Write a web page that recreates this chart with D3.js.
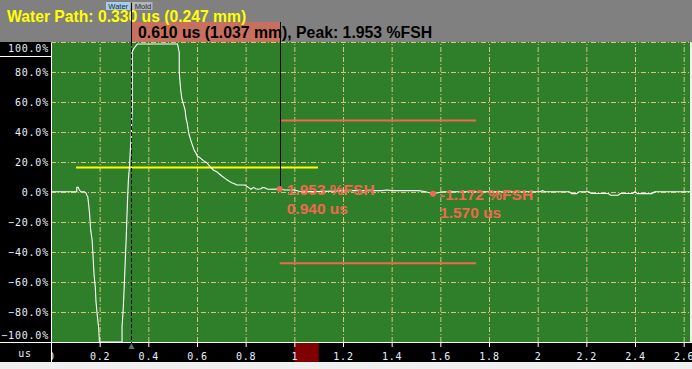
<!DOCTYPE html>
<html>
<head>
<meta charset="utf-8">
<script src="https://cdn.jsdelivr.net/npm/d3@7"></script>
<style>
  body { margin: 0; background: #f0f0f0; }
  svg { display: block; }
  .tick text { font-family: "DejaVu Sans Mono", monospace; font-size: 10px; fill: #e8f2ff; letter-spacing: 0.8px; }
</style>
</head>
<body>
<svg id="chart" width="692" height="369"></svg>
<script>
// A-scan waveform (time in us, amplitude in %FSH)
const waveUs = [0, 0.100, 0.106, 0.106, 0.112, 0.115, 0.122, 0.137, 0.144, 0.147, 0.151, 0.155, 0.159, 0.163,
  0.169, 0.173, 0.177, 0.182, 0.185, 0.190, 0.196, 0.199, 0.292, 0.292, 0.297, 0.301, 0.305, 0.309, 0.314,
  0.318, 0.323, 0.326, 0.329, 0.334, 0.334, 0.341, 0.355, 0.520, 0.527, 0.527, 0.533, 0.538, 0.551, 0.555,
  0.560, 0.564, 0.568, 0.574, 0.581, 0.588, 0.596, 0.601, 0.612, 0.626, 0.640, 0.654, 0.667, 0.681, 0.702,
  0.715, 0.729, 0.743, 0.756, 0.763, 0.797, 0.811, 0.822, 0.832, 0.841, 0.852, 0.863, 0.870, 0.880, 0.891,
  0.940, 0.960, 1.000, 1.020, 1.100, 1.230, 1.360, 1.380, 1.400, 1.510, 1.540, 1.570, 1.610, 2.010, 2.020,
  2.030, 2.130, 2.140, 2.160, 2.170, 2.210, 2.220, 2.290, 2.300, 2.330, 2.340, 2.390, 2.400, 2.410, 2.470,
  2.480, 2.626];
const wavePct = [0.2, 0.2, 0.2, 3.1, 3.1, 1.8, 0.2, 0.2, -0.8, -2, -3.1, -8.7, -15.3, -25.3,
  -32, -43.3, -55.3, -63.3, -73.3, -82, -90.7, -100, -100, -89.8, -77.5, -62.7, -46.5, -30.9, -7.5,
  8, 18, 28, 34.7, 55.8, 93.5, 95.8, 98.7, 98.7, 93, 80, 68, 62, 54.7, 49,
  45.8, 41.3, 38, 34.7, 31.3, 28, 25.8, 24, 22.9, 20.9, 19.5, 16.9, 14.7, 13.5, 10.7,
  9.1, 7.5, 6.2, 5.3, 4.7, 4.7, 3.1, 1.8, 3.1, 2.2, 1.8, 2.2, 3.1, 2.7, 1.8,
  1.95, 1.3, 1.3, 0.5, 0.3, 0.9, 0.9, 1.3, 0.9, 0.9, 0.2, -1.17, 0.2, 0.2, 0.9,
  0.2, 0.2, -1.1, -1.1, 0.2, 0.2, -1.0, -1.0, -2.2, -2.2, -1.0, -1.0, 0.2, -1.1, -1.1,
  0.2, 0.2];

// axis ticks
const xTicks = [0, 0.2, 0.4, 0.6, 0.8, 1, 1.2, 1.4, 1.6, 1.8, 2, 2.2, 2.4, 2.6];
const yTicks = [100, 80, 60, 40, 20, 0, -20, -40, -60, -80, -100];

// gates and markers
const interfaceGate = { start: 0.103, end: 1.097, level: 16.4 };
const measureGate = { start: 0.94, end: 1.747, upper: 47.7, lower: -47.5 };
const waterPathUs = 0.330;
const peaks = [
  { us: 0.940, pct: 1.953, label: "1.953 %FSH", time: "0.940 us" },
  { us: 1.570, pct: -1.172, label: "-1.172 %FSH", time: "1.570 us" }
];
const headerText = "Water Path: 0.330 us (0.247 mm)";
const boxText = "0.610 us (1.037 mm), Peak: 1.953 %FSH";

const W = 692, H = 369;
const margin = { left: 51, top: 42, right: 2, bottom: 27 };
const width = W - margin.left - margin.right;
const height = H - margin.top - margin.bottom;

const gridColor = "#d8c47c";
const redColor = "#f0684e";
const boldFont = "'Liberation Sans', Arial, sans-serif";

const x = d3.scaleLinear().domain([0, 2.626]).range([margin.left, margin.left + width]);
const y = d3.scaleLinear().domain([-100, 100]).range([margin.top + height, margin.top]);

const svg = d3.select("#chart");

// backgrounds
svg.append("rect").attr("x", 0).attr("y", 0).attr("width", W).attr("height", H).attr("fill", "#f0f0f0");
svg.append("rect").attr("x", 0).attr("y", 0).attr("width", W).attr("height", margin.top).attr("fill", "#808080");
svg.append("rect").attr("x", 0).attr("y", margin.top).attr("width", margin.left).attr("height", height)
  .attr("fill", "#000");
svg.append("rect").attr("x", 0).attr("y", margin.top + height).attr("width", W).attr("height", 20)
  .attr("fill", "#000");
svg.append("rect").attr("x", margin.left).attr("y", margin.top).attr("width", width).attr("height", height)
  .attr("fill", "#2f7f2a");

// red range box on the time axis
svg.append("rect").attr("x", x(1)).attr("y", margin.top + height).attr("width", x(1.1) - x(1)).attr("height", 20)
  .attr("fill", "#800000");

// grid
svg.append("g")
  .attr("transform", `translate(0, ${margin.top + height})`)
  .call(d3.axisBottom(x).tickValues(xTicks.slice(1)).tickSize(-height).tickFormat(""))
  .call(g => g.select(".domain").remove())
  .selectAll("line").attr("stroke", gridColor).attr("stroke-dasharray", "5,2,1,2");

svg.append("g")
  .attr("transform", `translate(${margin.left}, 0)`)
  .call(d3.axisLeft(y).tickValues(yTicks.slice(0, -1)).tickSize(-width).tickFormat(""))
  .call(g => g.select(".domain").remove())
  .selectAll("line").attr("stroke", gridColor).attr("stroke-dasharray", "5,2,1,2");

// x axis (clipped on the left so the "0" sits half under the label panel)
svg.append("clipPath").attr("id", "xaxis-clip")
  .append("rect").attr("x", margin.left + 1).attr("y", -2).attr("width", W).attr("height", 24);

const xAxis = svg.append("g")
  .attr("transform", `translate(0, ${margin.top + height})`)
  .attr("clip-path", "url(#xaxis-clip)")
  .call(d3.axisBottom(x).tickValues(xTicks).tickSize(5).tickPadding(4).tickFormat(d3.format("~g")));
xAxis.select(".domain").attr("stroke", "#fff").attr("d", `M${margin.left},0.5H${W}`);
xAxis.selectAll(".tick line").attr("stroke", "#fff");
xAxis.selectAll(".tick text").attr("dy", null).attr("y", 17.5);

svg.append("text").attr("x", 25).attr("y", 357).attr("text-anchor", "middle")
  .style("font-family", "'DejaVu Sans Mono', monospace").style("font-size", "10px")
  .style("letter-spacing", "0.8px").attr("fill", "#e8f2ff").text("us");

// y axis
const yAxis = svg.append("g")
  .attr("transform", `translate(${margin.left - 1}, 0)`)
  .call(d3.axisLeft(y).tickValues(yTicks).tickSize(0).tickPadding(1).tickFormat(d => d3.format(".1f")(d) + "%"));
yAxis.select(".domain").remove();
yAxis.selectAll(".tick text").attr("dy", "0.34em")
  .attr("y", d => d === 100 ? 6.5 : (d === -100 ? -7 : 0));

svg.append("line").attr("x1", 0).attr("x2", margin.left).attr("y1", 56.5).attr("y2", 56.5)
  .attr("stroke", "#fff");
svg.append("line").attr("x1", 0).attr("x2", margin.left).attr("y1", margin.top + height + 0.5)
  .attr("y2", margin.top + height + 0.5).attr("stroke", "#fff");
svg.append("line").attr("x1", margin.left + 0.5).attr("x2", margin.left + 0.5)
  .attr("y1", margin.top).attr("y2", margin.top + height + 20).attr("stroke", "#fff");

// top dashed border
svg.append("line").attr("x1", margin.left).attr("x2", W).attr("y1", margin.top + 0.5).attr("y2", margin.top + 0.5)
  .attr("stroke", gridColor).attr("stroke-dasharray", "5,2,1,2");

// gates
svg.append("line")
  .attr("x1", x(interfaceGate.start)).attr("x2", x(interfaceGate.end))
  .attr("y1", y(interfaceGate.level)).attr("y2", y(interfaceGate.level))
  .attr("stroke", "#ffff00").attr("stroke-width", 2);
[measureGate.upper, measureGate.lower].forEach(level => {
  svg.append("line")
    .attr("x1", x(measureGate.start)).attr("x2", x(measureGate.end))
    .attr("y1", y(level)).attr("y2", y(level))
    .attr("stroke", redColor).attr("stroke-width", 2);
});

// waveform
const wave = waveUs.map((t, i) => ({ t: t, a: wavePct[i] }));
const line = d3.line().x(d => x(d.t)).y(d => y(d.a));
svg.append("path")
  .datum(wave)
  .attr("d", line)
  .attr("fill", "none")
  .attr("stroke", "#fff")
  .attr("stroke-width", 1.1)
  .attr("stroke-linejoin", "miter");

// header texts
svg.append("rect").attr("x", x(waterPathUs)).attr("y", 22).attr("width", x(peaks[0].us) - x(waterPathUs))
  .attr("height", 20).attr("fill", "#c8705f");
svg.append("text").attr("x", 7).attr("y", 21.5).attr("fill", "#ffff00")
  .style("font", `bold 15.7px ${boldFont}`).text(headerText);
svg.append("text").attr("x", 138).attr("y", 38).attr("fill", "#000")
  .style("font", `bold 15.8px ${boldFont}`).text(boxText);

// Water | Mold tags
svg.append("rect").attr("x", 106).attr("y", 2).attr("width", 24.5).attr("height", 8).attr("fill", "#a8cde8");
svg.append("text").attr("x", 118.2).attr("y", 8.5).attr("text-anchor", "middle").attr("fill", "#1a2a3a")
  .style("font", `7.5px ${boldFont}`).text("Water");
svg.append("rect").attr("x", 133.5).attr("y", 2).attr("width", 19).attr("height", 8).attr("fill", "#b4b4b4");
svg.append("text").attr("x", 143).attr("y", 8.5).attr("text-anchor", "middle").attr("fill", "#1a2a3a")
  .style("font", `7.5px ${boldFont}`).text("Mold");
svg.append("line").attr("x1", 133).attr("x2", 133).attr("y1", 2).attr("y2", 10).attr("stroke", "#e0e0e0");

// water path cursor
const wx = Math.round(x(waterPathUs)) + 0.5;
svg.append("line").attr("x1", wx).attr("x2", wx).attr("y1", 3).attr("y2", margin.top)
  .attr("stroke", "#000");
svg.append("line").attr("x1", wx).attr("x2", wx).attr("y1", margin.top).attr("y2", margin.top + height + 2)
  .attr("stroke", "#000").attr("stroke-dasharray", "4,2");
svg.append("path")
  .attr("d", `M${wx},${margin.top + height + 1}L${wx + 3},${margin.top + height + 7}L${wx - 3},${margin.top + height + 7}Z`)
  .attr("fill", "#5a6e78");

// peak cursor
const px = Math.round(x(peaks[0].us)) + 0.5;
svg.append("line").attr("x1", px).attr("x2", px).attr("y1", 22).attr("y2", y(peaks[0].pct))
  .attr("stroke", "#000");

// peak markers
peaks.forEach((p, i) => {
  svg.append("circle").attr("cx", x(p.us)).attr("cy", y(p.pct)).attr("r", 3).attr("fill", redColor);
  svg.append("text").attr("x", x(p.us) + 7).attr("y", y(p.pct) + 6)
    .attr("fill", redColor).style("font", `bold 15.5px ${boldFont}`).text(p.label);
  svg.append("text").attr("x", x(p.us) + 7).attr("y", y(p.pct) + (i === 0 ? 24.5 : 24))
    .attr("fill", redColor).style("font", `bold 15.5px ${boldFont}`).text(p.time);
});
</script>
</body>
</html>
